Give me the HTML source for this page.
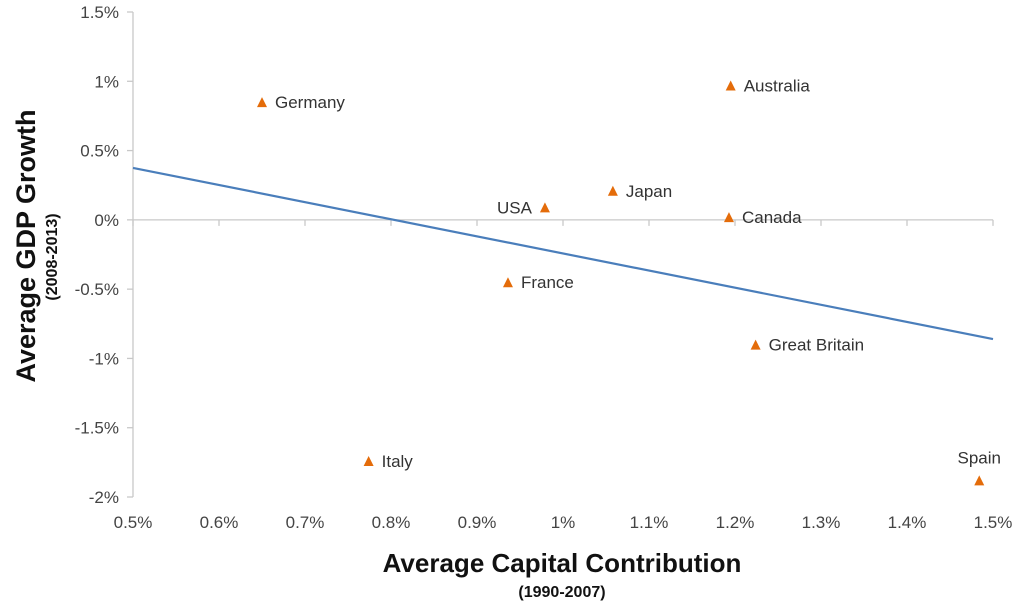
<!DOCTYPE html>
<html><head><meta charset="utf-8"><style>
html,body{margin:0;padding:0;background:#fff;}
svg{display:block;font-family:"Liberation Sans",sans-serif;}
</style></head><body>
<svg id="chart" width="1016" height="602"></svg>
<script>
const countries=["Germany","Australia","Japan","USA","Canada","France","Great Britain","Italy","Spain"];
const capital=[0.65,1.195,1.058,0.979,1.193,0.936,1.224,0.774,1.484];
const gdp=[0.85,0.97,0.21,0.09,0.02,-0.45,-0.90,-1.74,-1.88];
const labelPos=["right","right","right","left","right","right","right","right","above"];
const xTicks=[0.5,0.6,0.7,0.8,0.9,1.0,1.1,1.2,1.3,1.4,1.5];
const xTickLabels=["0.5%","0.6%","0.7%","0.8%","0.9%","1%","1.1%","1.2%","1.3%","1.4%","1.5%"];
const yTicks=[1.5,1,0.5,0,-0.5,-1,-1.5,-2];
const yTickLabels=["1.5%","1%","0.5%","0%","-0.5%","-1%","-1.5%","-2%"];
const trendX=[0.5,1.5];
const trendY=[0.375,-0.86];

const NS="http://www.w3.org/2000/svg";
const svg=document.getElementById("chart");
const X0=133,X1=993,Y0=12,Y1=497;
const sx=v=>X0+(v-0.5)/(1.0)*(X1-X0);
const sy=v=>Y0+(1.5-v)/3.5*(Y1-Y0);
function mk(t,a,txt){const e=document.createElementNS(NS,t);for(const k in a)e.setAttribute(k,a[k]);if(txt!==undefined)e.textContent=txt;svg.appendChild(e);return e;}

let e=mk("line",{x1:X0,y1:Y0,x2:X0,y2:Y1,stroke:"#c8c8c8","stroke-width":1.3});


e=mk("line",{x1:X0,y1:sy(0),x2:X1,y2:sy(0),stroke:"#c8c8c8","stroke-width":1.3});


yTicks.forEach((v,i)=>{
  const t=mk("line",{x1:X0-6,y1:sy(v),x2:X0,y2:sy(v),stroke:"#c8c8c8","stroke-width":1.3});
  
  
  const l=mk("text",{x:X0-14,y:sy(v)+6,"text-anchor":"end","font-size":17,fill:"#444"},yTickLabels[i]);
  
  
});
xTicks.forEach((v,i)=>{
  const t=mk("line",{x1:sx(v),y1:sy(0),x2:sx(v),y2:sy(0)+6,stroke:"#c8c8c8","stroke-width":1.3});
  
  
  const l=mk("text",{x:sx(v),y:528,"text-anchor":"middle","font-size":17,fill:"#444"},xTickLabels[i]);
  
  
});
e=mk("line",{x1:sx(trendX[0]),y1:sy(trendY[0]),x2:sx(trendX[1]),y2:sy(trendY[1]),stroke:"#4a7ebb","stroke-width":2.2});


countries.forEach((c,i)=>{
  const x=sx(capital[i]),y=sy(gdp[i]);
  const p=mk("polygon",{points:`${x-5},${y+5} ${x+5},${y+5} ${x},${y-5}`,fill:"#e46c0a"});
  
  
  let a={x:x+13,y:y+6,"text-anchor":"start"};
  if(labelPos[i]==="left")a={x:x-13,y:y+6,"text-anchor":"end"};
  if(labelPos[i]==="above")a={x:x,y:y-17,"text-anchor":"middle"};
  a["font-size"]=17;a.fill="#333";
  const l=mk("text",a,c);
  
  
});
e=mk("text",{x:0,y:0,transform:"translate(35,246) rotate(-90)","text-anchor":"middle","font-size":27,"font-weight":"bold",fill:"#111"},"Average GDP Growth");


e=mk("text",{x:0,y:0,transform:"translate(57,257) rotate(-90)","text-anchor":"middle","font-size":16,"font-weight":"bold",fill:"#111"},"(2008-2013)");


e=mk("text",{x:562,y:572,"text-anchor":"middle","font-size":26,"font-weight":"bold",fill:"#111"},"Average Capital Contribution");


e=mk("text",{x:562,y:597,"text-anchor":"middle","font-size":16,"font-weight":"bold",fill:"#111"},"(1990-2007)");


</script>
</body></html>
